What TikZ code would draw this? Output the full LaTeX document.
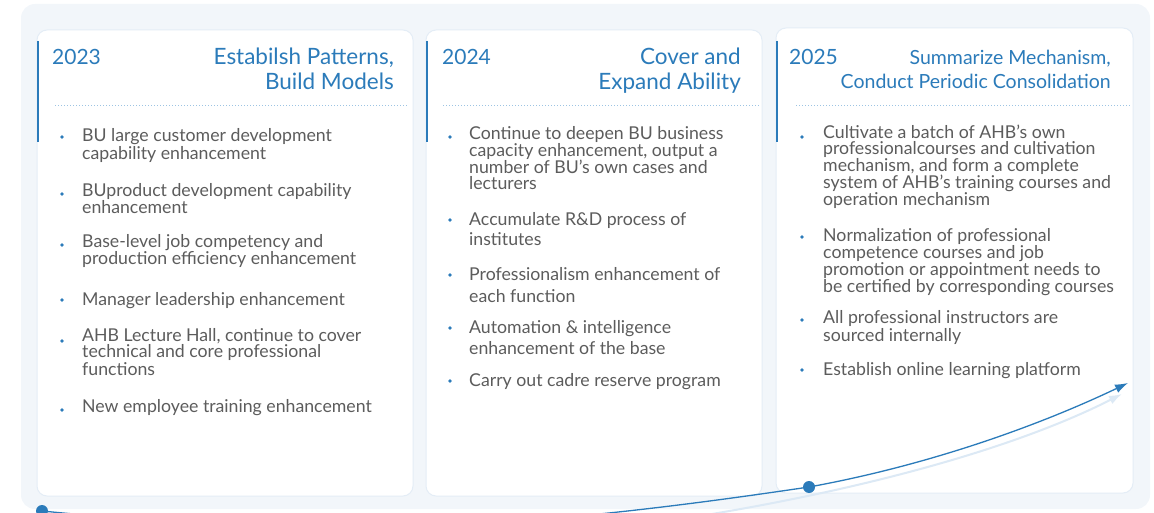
\documentclass[tikz,border=0pt]{standalone}
\usepackage{fontspec}
\setmainfont{Lato}
\usetikzlibrary{arrows.meta,positioning}
\definecolor{panelbg}{HTML}{F2F6FA}
\definecolor{accent}{HTML}{2B7BBA}
\definecolor{bodygrey}{HTML}{5C5C5C}
\definecolor{dotline}{HTML}{9DC4E3}
\definecolor{cardedge}{HTML}{E4EDF6}
\definecolor{ghost}{HTML}{DCE9F5}

\begin{document}
\begin{tikzpicture}[
    x=1pt, y=-1pt,
    card/.style={fill=white, draw=cardedge, line width=1pt, rounded corners=10pt},
    bar/.style={accent, line width=2.5pt},
    sep/.style={dotline, line width=1pt, dash pattern=on 1pt off 2pt},
    year/.style={anchor=base west, inner sep=0pt, text=accent, font=\fontsize{21}{25}\selectfont},
    phase/.style={anchor=base east, inner sep=0pt, text=accent, align=right, font=\fontsize{22.5}{25}\selectfont},
    item/.style={anchor=base west, inner sep=0pt, text=bodygrey, align=left, font=\fontsize{17.7}{#1}\selectfont},
    item/.default=16,
    dot/.style={circle, fill=accent, inner sep=0pt, minimum size=3.6pt},
    stop/.style={circle, fill=accent, inner sep=0pt, minimum size=12pt},
    trend/.style={accent, line width=1.3pt, -{Latex[length=13pt,width=9pt]}},
    shade/.style={ghost, line width=2pt, -{Latex[length=13pt,width=9pt]}}
]
\useasboundingbox (0,0) rectangle (1154,513);
\fill[panelbg, rounded corners=14pt] (21,4) rectangle (1150,509);

% cards
\draw[card] (37,30) rectangle (413,496);
\draw[card] (426,30) rectangle (762,496);
\draw[card] (776,28) rectangle (1133,493);

\draw[bar] (38,41) -- (38,142);
\draw[bar] (427,41) -- (427,142);
\draw[bar] (777,41) -- (777,142);

% headers (base = last line)
\node[year] (y23) at (52,65) {2023};
\node[phase] (p23) at (394,90) {Estabilsh Patterns,\\Build Models};
\node[year] (y24) at (442,65) {2024};
\node[phase] (p24) at (741,90) {Cover and\\Expand Ability};
\node[year] (y25) at (789,65) {2025};
\node[phase, font=\fontsize{19.5}{24}\selectfont] (p25) at (1111,89) {Summarize Mechanism,\\Conduct Periodic Consolidation};

\draw[sep] (55,106) -- (408,106);
\draw[sep] (443,106) -- (759,106);
\draw[sep] (796,106) -- (1130,106);

% 2023 items
\node[item=18] (a1) at (82,160) {BU large customer development\\capability enhancement};
\node[item=15] (a2) at (82,214) {BUproduct development capability\\enhancement};
\node[item=15] (a3) at (82,265) {Base-level job competency and\\production efficiency enhancement};
\node[item] (a4) at (82,305) {Manager leadership enhancement};
\node[item] (a5) at (82,375) {AHB Lecture Hall, continue to cover\\technical and core professional\\functions};
\node[item] (a6) at (82,412) {New employee training enhancement};
\node[dot] (da1) at (62,137) {};
\node[dot] (da2) at (62,194) {};
\node[dot] (da3) at (62,245) {};
\node[dot] (da4) at (62,300) {};
\node[dot] (da5) at (62,341) {};
\node[dot] (da6) at (62,410) {};

% 2024 items
\node[item] (b1) at (469,190) {Continue to deepen BU business\\capacity enhancement, output a\\number of BU's own cases and\\lecturers};
\node[item=20] (b2) at (469,245) {Accumulate R\&D process of\\institutes};
\node[item=22] (b3) at (469,302) {Professionalism enhancement of\\each function};
\node[item=21] (b4) at (469,354) {Automation \& intelligence\\enhancement of the base};
\node[item] (b5) at (469,386) {Carry out cadre reserve program};
\node[dot] (db1) at (450,137) {};
\node[dot] (db2) at (450,220) {};
\node[dot] (db3) at (450,275) {};
\node[dot] (db4) at (450,328) {};
\node[dot] (db5) at (450,381) {};

% 2025 items
\node[item] (c1) at (823,206) {Cultivate a batch of AHB's own\\professionalcourses and cultivation\\mechanism, and form a complete\\system of AHB's training courses and\\operation mechanism};
\node[item=16.7] (c2) at (823,292) {Normalization of professional\\competence courses and job\\promotion or appointment needs to\\be certified by corresponding courses};
\node[item] (c3) at (823,341) {All professional instructors are\\sourced internally};
\node[item] (c4) at (823,375) {Establish online learning platform};
\node[dot] (dc1) at (802,137) {};
\node[dot] (dc2) at (802,237) {};
\node[dot] (dc3) at (802,320) {};
\node[dot] (dc4) at (802,370) {};

% growth curve
\begin{scope}
\clip (0,0) rectangle (1154,513);
\coordinate (g0) at (640,525);
\coordinate (g1) at (1122,394);
\coordinate (tip) at (1128,383);
\draw[shade] (g0) .. controls (820,500) and (1000,456) .. (g1);
\node[stop] (s1) at (42,511) {};
\node[stop] (s2) at (809,487) {};
\draw[trend] (s1.center) .. controls (340,540) and (520,530) .. (s2.center)
    .. controls (930,465) and (1040,425) .. (tip);
\end{scope}
\end{tikzpicture}
\end{document}
